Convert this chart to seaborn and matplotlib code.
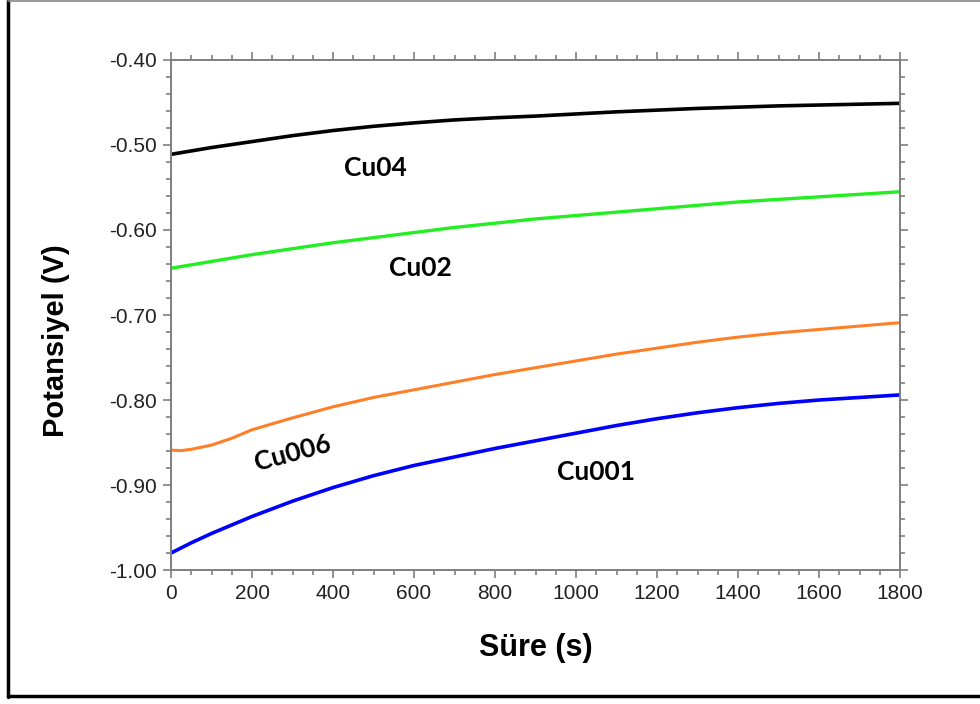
import numpy as np
import pandas as pd
import seaborn as sns
import matplotlib
matplotlib.use("Agg")
import matplotlib.pyplot as plt
from matplotlib.lines import Line2D
from matplotlib.ticker import MultipleLocator, FormatStrFormatter

# ---- data ----
time_s = [0, 25, 50, 100, 150, 200, 300, 400, 500, 600, 700, 800, 900,
          1000, 1100, 1200, 1300, 1400, 1500, 1600, 1700, 1800]

cu04 = [-0.511, -0.509, -0.507, -0.503, -0.4995, -0.496, -0.489, -0.483, -0.478,
        -0.474, -0.4705, -0.468, -0.466, -0.4635, -0.461, -0.459, -0.457, -0.4555,
        -0.454, -0.453, -0.452, -0.451]
cu02 = [-0.645, -0.643, -0.641, -0.637, -0.633, -0.629, -0.622, -0.615, -0.609,
        -0.603, -0.597, -0.592, -0.587, -0.583, -0.579, -0.575, -0.571, -0.567,
        -0.564, -0.561, -0.558, -0.555]
cu006 = [-0.859, -0.8595, -0.858, -0.853, -0.845, -0.835, -0.821, -0.808, -0.797,
         -0.788, -0.779, -0.770, -0.762, -0.754, -0.746, -0.739, -0.732, -0.726,
         -0.721, -0.717, -0.713, -0.709]
cu001 = [-0.980, -0.974, -0.968, -0.957, -0.947, -0.937, -0.919, -0.903, -0.889,
         -0.877, -0.867, -0.857, -0.848, -0.839, -0.830, -0.822, -0.815, -0.809,
         -0.804, -0.800, -0.797, -0.794]

series_names = ["Cu04", "Cu02", "Cu006", "Cu001"]
series_colors = ["#000000", "#22ee22", "#ff7f27", "#0000ff"]
series_widths = [2.6, 2.4, 2.2, 2.6]

label_text = ["Cu04", "Cu02", "Cu006", "Cu001"]
label_x = [504, 617, 301, 1049]
label_y = [-0.527, -0.645, -0.862, -0.885]
label_rot = [0, 0, 15, 0]

x_ticks = [0, 200, 400, 600, 800, 1000, 1200, 1400, 1600, 1800]
y_ticks = [-1.00, -0.90, -0.80, -0.70, -0.60, -0.50, -0.40]

frames = []
for name, vals in zip(series_names, [cu04, cu02, cu006, cu001]):
    frames.append(pd.DataFrame({"t": time_s, "V": vals, "series": name}))
df = pd.concat(frames, ignore_index=True)

# ---- style ----
sns.set_theme(style="white")
plt.rcParams["font.family"] = ["Liberation Sans", "DejaVu Sans"]

fig = plt.figure(figsize=(9.8, 7.04), dpi=100)
ax = fig.add_axes([0.1745, 0.1903, 0.9184 - 0.1745, 0.9148 - 0.1903])

for name, col, lw in zip(series_names, series_colors, series_widths):
    sns.lineplot(data=df[df["series"] == name], x="t", y="V", color=col,
                 linewidth=lw, estimator=None, legend=False, ax=ax)

ax.set_xlim(0, 1800)
ax.set_ylim(-1.00, -0.40)
ax.set_xticks(x_ticks)
ax.set_yticks(y_ticks)
ax.xaxis.set_minor_locator(MultipleLocator(50))
ax.yaxis.set_minor_locator(MultipleLocator(0.02))
ax.yaxis.set_major_formatter(FormatStrFormatter("%.2f"))

spine_col = "#7f7f7f"
for s in ax.spines.values():
    s.set_visible(True)
    s.set_color(spine_col)
    s.set_linewidth(1.4)

ax.tick_params(which="both", direction="out", color=spine_col, width=1.2,
               top=True, right=True, bottom=True, left=True,
               labeltop=False, labelright=False)
ax.tick_params(which="major", length=6, labelsize=15, labelcolor="#222222", pad=4)
ax.tick_params(which="minor", length=3.5)

ax.set_xlabel("Süre (s)", fontsize=22, fontweight="bold", labelpad=22, color="black")
ax.set_ylabel("Potansiyel (V)", fontsize=21, fontweight="bold", color="black",
              va="center", ha="center")
ax.yaxis.set_label_coords(-0.158, 0.45)

for txt, x, y, r in zip(label_text, label_x, label_y, label_rot):
    ax.text(x, y, txt, fontsize=19, fontweight="bold", family=["Lato", "DejaVu Sans"],
            ha="center", va="center", rotation=r, color="black")

# outer frame
fig.add_artist(Line2D([0.0085, 0.0085], [0.01, 1.0], transform=fig.transFigure,
                      color="black", linewidth=2.5))
fig.add_artist(Line2D([0.0085, 1.0], [0.011, 0.011], transform=fig.transFigure,
                      color="black", linewidth=2.5))
fig.add_artist(Line2D([0.0085, 1.0], [0.998, 0.998], transform=fig.transFigure,
                      color="#888888", linewidth=1.2))

fig.savefig("out.png", dpi=100, facecolor="white")
